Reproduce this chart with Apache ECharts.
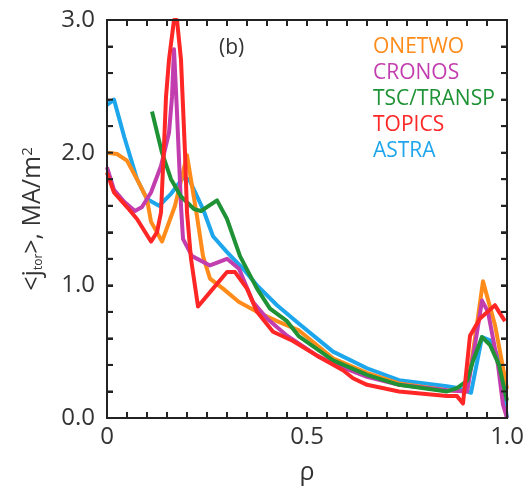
<!DOCTYPE html>
<html><head><meta charset="utf-8">
<script src="https://cdn.jsdelivr.net/npm/echarts@6/dist/echarts.min.js"></script>
<style>html,body{margin:0;padding:0;background:#fff}#c{width:529px;height:490px}</style>
</head><body><div id="c"></div>
<script>
const seriesNames = ['ONETWO','CRONOS','TSC/TRANSP','TOPICS','ASTRA'];
const seriesColors = ['#FF8C1A','#C23DAE','#1E9234','#FF2626','#1EA6EC'];
const xTickLabels = {0:'0',50:'0.5',100:'1.0'};
const yTickLabels = {0:'0.0',10:'1.0',20:'2.0',30:'3.0'};

const onetwo = [[0,2.0],[0.025,1.99],[0.05,1.94],[0.075,1.8],[0.1,1.65],[0.11,1.48],[0.1375,1.33],[0.17,1.6],[0.19,1.85],[0.2,1.98],[0.225,1.52],[0.24,1.22],[0.2575,1.05],[0.29,0.975],[0.33,0.875],[0.375,0.8],[0.425,0.73],[0.48,0.66],[0.565,0.45],[0.65,0.34],[0.73,0.26],[0.85,0.21],[0.9,0.2],[0.92,0.6],[0.94,1.03],[0.97,0.7],[1.0,0.22]];
const cronos = [[0,1.89],[0.0175,1.72],[0.043,1.63],[0.07,1.56],[0.0875,1.59],[0.11,1.7],[0.135,1.9],[0.155,2.15],[0.1625,2.42],[0.1675,2.78],[0.175,2.3],[0.185,1.6],[0.19,1.35],[0.2125,1.22],[0.2575,1.15],[0.3,1.2],[0.33,1.125],[0.365,0.875],[0.4,0.75],[0.45,0.62],[0.525,0.47],[0.565,0.41],[0.65,0.31],[0.73,0.25],[0.85,0.21],[0.9,0.2],[0.92,0.55],[0.9375,0.885],[0.9525,0.8],[0.9775,0.4],[0.99,0.1],[1.0,0.0]];
const tsc = [[0.1125,2.31],[0.1375,2.0],[0.16,1.8],[0.185,1.67],[0.2175,1.575],[0.235,1.56],[0.2675,1.625],[0.275,1.64],[0.3,1.5],[0.3325,1.22],[0.375,0.975],[0.4075,0.825],[0.45,0.73],[0.48,0.615],[0.565,0.435],[0.65,0.325],[0.73,0.25],[0.85,0.2],[0.875,0.225],[0.9,0.28],[0.915,0.43],[0.9375,0.61],[0.9575,0.55],[0.98,0.4],[1.0,0.13]];
const topics = [[0,1.85],[0.0175,1.7],[0.05,1.59],[0.075,1.5],[0.11,1.33],[0.125,1.4],[0.135,1.55],[0.1425,2.05],[0.1475,2.42],[0.155,2.7],[0.1675,3.0],[0.175,3.0],[0.185,2.7],[0.195,2.0],[0.2,1.55],[0.21,1.2],[0.2275,0.84],[0.265,0.975],[0.3,1.1],[0.32,1.1],[0.35,0.975],[0.375,0.8],[0.415,0.65],[0.465,0.58],[0.525,0.47],[0.59,0.36],[0.615,0.3],[0.65,0.25],[0.73,0.2],[0.85,0.165],[0.875,0.165],[0.89,0.11],[0.9075,0.62],[0.9325,0.75],[0.97,0.85],[0.98,0.8],[0.995,0.73]];
const astra = [[0,2.36],[0.0175,2.4],[0.043,2.12],[0.075,1.8],[0.1,1.65],[0.13,1.6],[0.16,1.69],[0.19,1.81],[0.205,1.8],[0.24,1.575],[0.265,1.37],[0.3,1.25],[0.34,1.125],[0.375,1.0],[0.425,0.85],[0.48,0.71],[0.565,0.5],[0.65,0.375],[0.73,0.285],[0.85,0.24],[0.88,0.225],[0.9,0.2],[0.91,0.19],[0.9375,0.61],[0.9575,0.585],[0.98,0.45],[1.0,0.0]];

const seriesData = [onetwo, cronos, tsc, topics, astra];
const drawOrder = [4,0,1,2,3];

const chart = echarts.init(document.getElementById('c'), null, {renderer:'canvas'});
const font = '"Open Sans", "Noto Sans", sans-serif';
const axisColor = '#222222';
const line = () => ({show:true,onZero:false,lineStyle:{color:axisColor,width:2}});
const tick = () => ({show:true,inside:true,length:6,lineStyle:{color:axisColor,width:2}});
chart.setOption({
  animation:false,
  grid:{left:107,top:20,width:400,height:400},
  xAxis:[
    {type:'value',min:0,max:1,interval:0.05,position:'bottom',axisLine:line(),axisTick:tick(),
      splitLine:{show:false},
      axisLabel:{fontSize:24,color:'#333',fontFamily:font,margin:7,showMinLabel:true,showMaxLabel:true,
        formatter:v=>xTickLabels[Math.round(v*100)]||''},
      name:'ρ',nameLocation:'middle',nameGap:42,nameTextStyle:{fontSize:25,color:'#333',fontFamily:font}},
    {type:'value',min:0,max:1,interval:0.05,position:'top',axisLine:line(),axisTick:tick(),
      axisLabel:{show:false},splitLine:{show:false}}
  ],
  yAxis:[
    {type:'value',min:0,max:3,interval:0.2,position:'left',axisLine:line(),axisTick:tick(),
      splitLine:{show:false},
      axisLabel:{fontSize:24,color:'#333',fontFamily:font,margin:12,showMinLabel:true,showMaxLabel:true,
        formatter:v=>yTickLabels[Math.round(v*10)]||''},
      name:'<j{sub|tor}>, MA/m{sup|2}',nameLocation:'middle',nameGap:62,
      nameTextStyle:{fontSize:25,color:'#333',fontFamily:font,
        rich:{sub:{fontSize:12,color:'#333',fontFamily:font,verticalAlign:'bottom',padding:[10,0,0,0]},
              sup:{fontSize:15,color:'#333',fontFamily:font,verticalAlign:'top',padding:[0,0,10,0]}}}},
    {type:'value',min:0,max:3,interval:0.2,position:'right',axisLine:line(),axisTick:tick(),
      splitLine:{show:false},axisLabel:{show:false}}
  ],
  legend:{
    orient:'vertical',left:363,top:32,icon:'none',itemWidth:0,itemHeight:14,itemGap:5,
    selectedMode:false,
    textStyle:{fontSize:21,fontFamily:font,padding:0},
    data:seriesNames.map((n,i)=>({name:n,textStyle:{color:seriesColors[i]}}))
  },
  graphic:[{type:'text',left:219,top:38,style:{text:'(b)',fontSize:21,fill:'#333',fontFamily:font}}],
  series:drawOrder.map(i=>({
    name:seriesNames[i],type:'line',data:seriesData[i],showSymbol:false,symbol:'none',
    color:seriesColors[i],lineStyle:{width:4,color:seriesColors[i],join:'round'},clip:true,z:2+drawOrder.indexOf(i)
  }))
});

// Frame and inward ticks placed through the chart's own coordinate conversion.
const px = (x,y) => chart.convertToPixel({gridIndex:0},[x,y]);
const p00 = px(0,0), p13 = px(1,3);
const frameEls = [{type:'rect',z:50,silent:true,
  shape:{x:p00[0],y:p13[1],width:p13[0]-p00[0],height:p00[1]-p13[1]},
  style:{fill:'none',stroke:axisColor,lineWidth:2}}];
for(let k=1;k<20;k++){
  const p=px(k/20,0);
  frameEls.push({type:'line',z:50,silent:true,shape:{x1:p[0],y1:p00[1],x2:p[0],y2:p00[1]-6},style:{stroke:axisColor,lineWidth:2}});
  frameEls.push({type:'line',z:50,silent:true,shape:{x1:p[0],y1:p13[1],x2:p[0],y2:p13[1]+6},style:{stroke:axisColor,lineWidth:2}});
}
for(let k=1;k<15;k++){
  const p=px(0,k*0.2);
  frameEls.push({type:'line',z:50,silent:true,shape:{x1:p00[0],y1:p[1],x2:p00[0]+6,y2:p[1]},style:{stroke:axisColor,lineWidth:2}});
  frameEls.push({type:'line',z:50,silent:true,shape:{x1:p13[0],y1:p[1],x2:p13[0]-6,y2:p[1]},style:{stroke:axisColor,lineWidth:2}});
}
chart.setOption({graphic:[{type:'text',left:219,top:38,style:{text:'(b)',fontSize:21,fill:'#333',fontFamily:font}},{type:'group',children:frameEls}]});
</script></body></html>
